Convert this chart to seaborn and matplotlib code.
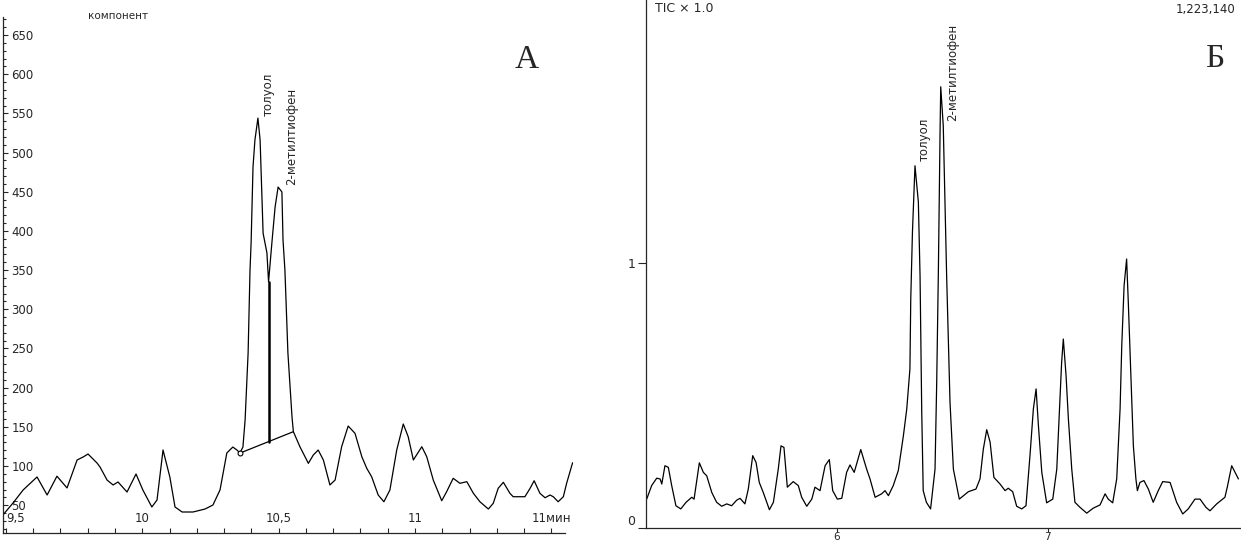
import matplotlib
matplotlib.use("Agg")
import matplotlib.pyplot as plt
import seaborn as sns
from matplotlib.ticker import MultipleLocator

# panel A: detector signal vs time, min
a_time = [9.489, 9.526, 9.563, 9.614, 9.651, 9.687, 9.724, 9.761, 9.783, 9.801,
          9.834, 9.845, 9.871, 9.893, 9.911, 9.944, 9.977, 10.002, 10.035, 10.054,
          10.076, 10.101, 10.12, 10.146, 10.186, 10.23, 10.259, 10.285, 10.31, 10.332,
          10.347, 10.358, 10.369, 10.377, 10.388, 10.395, 10.399, 10.406, 10.413, 10.424,
          10.432, 10.443, 10.457, 10.463, 10.476, 10.487, 10.498, 10.512, 10.516, 10.523,
          10.534, 10.549, 10.554, 10.578, 10.609, 10.627, 10.645, 10.664, 10.688, 10.707,
          10.731, 10.755, 10.78, 10.805, 10.823, 10.841, 10.865, 10.886, 10.908, 10.933,
          10.957, 10.975, 10.994, 11.025, 11.043, 11.067, 11.098, 11.116, 11.14, 11.165,
          11.19, 11.214, 11.238, 11.269, 11.287, 11.305, 11.324, 11.348, 11.36, 11.403,
          11.422, 11.437, 11.458, 11.477, 11.495, 11.507, 11.525, 11.544, 11.556, 11.578]
a_signal = [37.5, 52.8, 69.4, 86, 63, 87, 72, 107.7, 111.5, 115.3,
            103.8, 98.7, 82, 75.8, 79.6, 66.8, 89.8, 69.4, 47.7, 56.6,
            120.4, 86, 47.7, 41.3, 41.3, 45.1, 50.2, 69.4, 116.6, 124.2,
            120.4, 116.6, 124.2, 158.7, 244, 350, 384.6, 481.6, 516, 544,
            516, 397, 372, 335, 388, 430.5, 456, 449.7, 388.4, 350,
            244, 162.5, 143.8, 124.6, 103.4, 114, 120.4, 107.7, 75.8, 82.1,
            124.6, 151, 141.7, 111.9, 97.1, 86.3, 63, 54.4, 69.4, 120.4,
            153.6, 137.4, 107.7, 124.6, 111.9, 82.1, 55.7, 67.2, 84.3, 77.9,
            80, 65.2, 54.4, 45.1, 52.4, 71.5, 79.2, 65.2, 60.8, 60.8,
            71.5, 81.2, 65.2, 59.5, 63, 60.8, 54.4, 60.8, 77.9, 104.2]
a_base_time = [10.359, 10.554]
a_base_signal = [116.6, 143.8]
a_split_time = [10.463, 10.463]
a_split_signal = [131.1, 335]
a_xticks = [9.5, 10, 10.5, 11, 11.5]
a_xlabels = ["9,5", "10", "10,5", "11", "11мин"]
a_yticks = list(range(50, 651, 50))

# panel Б: TIC vs time, min
b_time = [5.0995, 5.123, 5.147, 5.163, 5.171, 5.186, 5.202, 5.218, 5.238, 5.261,
          5.286, 5.313, 5.324, 5.349, 5.368, 5.384, 5.408, 5.431, 5.455, 5.479,
          5.502, 5.526, 5.542, 5.565, 5.581, 5.602, 5.618, 5.633, 5.652, 5.681,
          5.700, 5.723, 5.736, 5.750, 5.766, 5.794, 5.818, 5.834, 5.858, 5.882,
          5.897, 5.921, 5.945, 5.965, 5.981, 6.003, 6.024, 6.047, 6.063, 6.083,
          6.114, 6.142, 6.158, 6.182, 6.213, 6.229, 6.245, 6.268, 6.292, 6.316,
          6.332, 6.347, 6.351, 6.359, 6.371, 6.387, 6.395, 6.403, 6.410, 6.425,
          6.445, 6.466, 6.474, 6.482, 6.485, 6.490, 6.493, 6.505, 6.513, 6.521,
          6.537, 6.553, 6.581, 6.624, 6.660, 6.679, 6.695, 6.711, 6.727, 6.745,
          6.774, 6.798, 6.813, 6.834, 6.853, 6.877, 6.897, 6.916, 6.932, 6.945,
          6.956, 6.972, 6.995, 7.024, 7.043, 7.055, 7.066, 7.074, 7.087, 7.098,
          7.114, 7.129, 7.153, 7.185, 7.216, 7.248, 7.272, 7.287, 7.308, 7.327,
          7.343, 7.351, 7.362, 7.374, 7.382, 7.393, 7.406, 7.418, 7.425, 7.437,
          7.456, 7.477, 7.500, 7.524, 7.545, 7.580, 7.611, 7.640, 7.666, 7.698,
          7.722, 7.750, 7.769, 7.801, 7.840, 7.851, 7.872, 7.888, 7.904]
b_signal = [0.109, 0.160, 0.188, 0.185, 0.166, 0.235, 0.229, 0.160, 0.084, 0.072,
            0.097, 0.116, 0.109, 0.246, 0.210, 0.197, 0.134, 0.097, 0.082, 0.091,
            0.084, 0.105, 0.112, 0.091, 0.147, 0.273, 0.247, 0.172, 0.134, 0.069,
            0.097, 0.222, 0.310, 0.304, 0.154, 0.175, 0.160, 0.116, 0.082, 0.109,
            0.154, 0.141, 0.235, 0.258, 0.141, 0.109, 0.112, 0.210, 0.238, 0.210,
            0.296, 0.222, 0.185, 0.116, 0.129, 0.141, 0.122, 0.160, 0.217, 0.348,
            0.449, 0.600, 0.864, 1.117, 1.367, 1.230, 0.951, 0.438, 0.141, 0.097,
            0.072, 0.222, 0.551, 0.978, 1.179, 1.505, 1.665, 1.518, 1.242, 0.952,
            0.474, 0.222, 0.109, 0.137, 0.147, 0.185, 0.298, 0.371, 0.324, 0.191,
            0.166, 0.141, 0.150, 0.137, 0.082, 0.072, 0.084, 0.273, 0.449, 0.525,
            0.386, 0.210, 0.095, 0.109, 0.222, 0.437, 0.625, 0.713, 0.575, 0.412,
            0.222, 0.097, 0.078, 0.056, 0.075, 0.087, 0.129, 0.109, 0.095, 0.185,
            0.449, 0.688, 0.914, 1.015, 0.851, 0.600, 0.310, 0.185, 0.141, 0.172,
            0.179, 0.147, 0.097, 0.141, 0.175, 0.172, 0.097, 0.053, 0.072, 0.109,
            0.109, 0.078, 0.065, 0.091, 0.116, 0.154, 0.235, 0.210, 0.185]
b_xticks = [6, 7]
b_yticks = [0, 1]

sns.set_style("ticks")
plt.rcParams['font.family'] = ['DejaVu Sans']
plt.rcParams['axes.linewidth'] = 0.9

fig = plt.figure(figsize=(12.41, 5.47), dpi=100)

# ---- panel A
ax1 = fig.add_axes([3 / 1241, 14 / 547, 570 / 1241, 516 / 547])
sns.lineplot(x=a_time, y=a_signal, ax=ax1, color='black', lw=0.9,
             sort=False, estimator=None)
ax1.plot(a_base_time, a_base_signal, color='black', lw=0.9)
ax1.plot(a_split_time, a_split_signal, color='black', lw=1.8)
ax1.plot(a_base_time[:1], a_base_signal[:1], 'o', mfc='white', mec='black',
         ms=3.5, mew=0.8)
ax1.set_xlim(9.4892, 11.5794)
ax1.set_ylim(14.5, 673)
sns.despine(ax=ax1)
ax1.spines['bottom'].set_bounds(9.4892, 11.55)
ax1.set_facecolor('white')

ax1.set_xticks(a_xticks)
xl = ax1.set_xticklabels(a_xlabels, va='bottom')
xl[0].set_ha('left')
ax1.xaxis.set_minor_locator(MultipleLocator(0.1))
ax1.tick_params(axis='x', which='both', direction='in', length=3.8, width=0.8,
                pad=-6, labelsize=8.5)
ax1.set_yticks(a_yticks)
ax1.set_yticklabels([str(v) for v in a_yticks], ha='left')
ax1.yaxis.set_minor_locator(MultipleLocator(10))
ax1.tick_params(axis='y', which='major', direction='in', length=3.8, width=0.8,
                pad=-6, labelsize=8.5)
ax1.tick_params(axis='y', which='minor', direction='in', length=2, width=0.8)
ax1.set_xlabel("")
ax1.set_ylabel("")

ax1.text(10.46, 547, "толуол", rotation=90, ha='center', va='bottom', fontsize=8.5)
ax1.text(10.547, 459, "2-метилтиофен", rotation=90, ha='center', va='bottom',
         fontsize=8.5)

# ---- panel Б
ax2 = fig.add_axes([646 / 1241, 19 / 547, 595 / 1241, 528 / 547])
sns.lineplot(x=b_time, y=b_signal, ax=ax2, color='black', lw=0.9,
             sort=False, estimator=None)
ax2.set_xlim(5.0962, 7.9161)
ax2.set_ylim(0, 528 / 265)
sns.despine(ax=ax2)
ax2.set_facecolor('white')
ax2.set_xticks(b_xticks)
ax2.set_xticklabels([str(v) for v in b_xticks])
ax2.tick_params(axis='x', direction='out', length=2.9, width=0.8, pad=0,
                labelsize=7.5)
ax2.set_yticks(b_yticks)
ylabels = ax2.set_yticklabels([str(v) for v in b_yticks])
ylabels[0].set_va('bottom')
ax2.tick_params(axis='y', direction='out', length=5.5, width=0.8, pad=2,
                labelsize=9)
ax2.set_xlabel("")
ax2.set_ylabel("")

ax2.text(6.414, 1.385, "толуол", rotation=90, ha='center', va='bottom', fontsize=8.5)
ax2.text(6.551, 1.535, "2-метилтиофен", rotation=90, ha='center', va='bottom',
         fontsize=8.5)

# ---- captions
fig.text(118 / 1241, 1 - 16 / 547, "компонент", ha='center', va='center', fontsize=7.5)
fig.text(527 / 1241, 1 - 60 / 547, "А", ha='center', va='center', fontsize=24,
         family=['Liberation Serif', 'DejaVu Serif'])
fig.text(1215 / 1241, 1 - 59 / 547, "Б", ha='center', va='center', fontsize=24,
         family=['Liberation Serif', 'DejaVu Serif'])
fig.text(655 / 1241, 1 - 8 / 547, "TIC × 1.0", ha='left', va='center', fontsize=9)
fig.text(1235 / 1241, 1 - 9 / 547, "1,223,140", ha='right', va='center', fontsize=8.5)

fig.savefig("out.png", dpi=100, facecolor='white')
